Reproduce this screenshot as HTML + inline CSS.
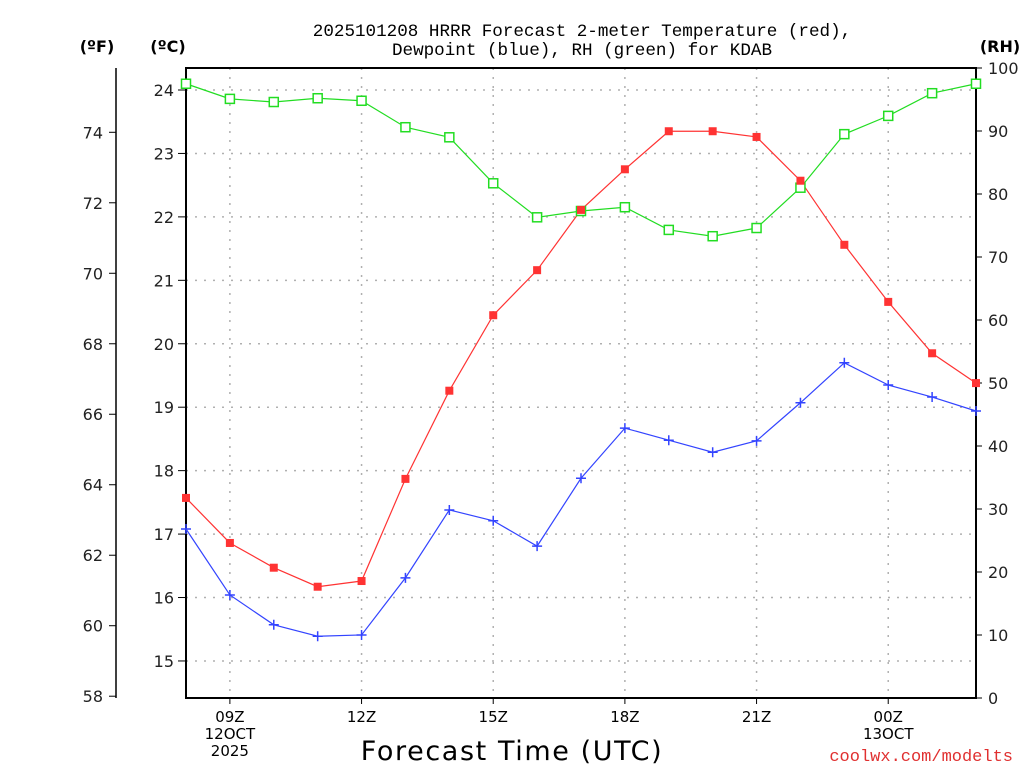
<!DOCTYPE html>
<html><head><meta charset="utf-8"><style>
html,body{margin:0;padding:0;background:#fff;}
svg{display:block;font-family:"DejaVu Sans","Liberation Sans",sans-serif;}
</style></head><body>
<svg id="chart" width="1024" height="768" xmlns="http://www.w3.org/2000/svg">
<rect width="1024" height="768" fill="#fff"/>
<text x="582" y="36" font-size="17.6" text-anchor="middle" fill="#000" font-family="Liberation Mono, monospace">2025101208 HRRR Forecast 2-meter Temperature (red),</text>
<text x="582" y="55" font-size="17.6" text-anchor="middle" fill="#000" font-family="Liberation Mono, monospace">Dewpoint (blue), RH (green) for KDAB</text>
<text x="97" y="52" font-size="16" font-weight="bold" text-anchor="middle">(ºF)</text>
<text x="168" y="52" font-size="16" font-weight="bold" text-anchor="middle">(ºC)</text>
<text x="1000" y="52" font-size="16" font-weight="bold" text-anchor="middle">(RH)</text>
<text x="512" y="760" font-size="27" letter-spacing="1.6" text-anchor="middle">Forecast Time (UTC)</text>
<text x="1013" y="761" font-size="17" text-anchor="end" fill="#e03030" font-family="Liberation Mono, monospace">coolwx.com/modelts</text>
<g id="grid"></g><g id="axes"></g><g id="series"></g>
</svg>
<script>
const hours=[8,9,10,11,12,13,14,15,16,17,18,19,20,21,22,23,24,25,26];
const tempC=[17.57,16.86,16.47,16.17,16.26,17.87,19.26,20.45,21.16,22.11,22.75,23.35,23.35,23.26,22.57,21.56,20.66,19.85,19.38];
const dewC=[17.08,16.04,15.57,15.39,15.41,16.31,17.38,17.21,16.81,17.88,18.67,18.48,18.29,18.47,19.07,19.70,19.35,19.16,18.94];
const rhVals=[97.5,95.1,94.6,95.2,94.8,90.6,89.0,81.7,76.3,77.3,77.9,74.3,73.3,74.6,81.0,89.5,92.4,96.0,97.5];
const xTickHours=[9,12,15,18,21,24];
const xTickLabels=[["09Z","12OCT","2025"],["12Z"],["15Z"],["18Z"],["21Z"],["00Z","13OCT"]];
const cTicks=[15,16,17,18,19,20,21,22,23,24];
const fTicks=[58,60,62,64,66,68,70,72,74];
const rhTicks=[0,10,20,30,40,50,60,70,80,90,100];

const NS="http://www.w3.org/2000/svg";
const L=186,R=976,T=68,B=698;
const xs=h=>L+(h-8)*(R-L)/18;
const yc=c=>90+(24-c)*63.44;
const yf=f=>yc((f-32)*5/9);
const yr=r=>B-r*(B-T)/100;
function mk(tag,attrs,parent,txt){const e=document.createElementNS(NS,tag);for(const k in attrs)e.setAttribute(k,attrs[k]);if(txt!==undefined)e.textContent=txt;parent.appendChild(e);return e;}
const grid=document.getElementById('grid'),axes=document.getElementById('axes'),ser=document.getElementById('series');
const dot={stroke:"#b0b0b0","stroke-width":1.5,"stroke-dasharray":"2 7"};
xTickHours.forEach((h,i)=>{
 const g=mk('line',Object.assign({x1:xs(h),x2:xs(h),y1:T,y2:B},dot),grid);
 
 
 mk('line',{x1:xs(h),x2:xs(h),y1:B,y2:B+6,stroke:"#000"},axes);
 xTickLabels[i].forEach((s,j)=>{const t=mk('text',{x:xs(h),y:722+j*17,"font-size":15,"text-anchor":"middle"},axes,s);
 
 });
});
cTicks.forEach(c=>{
 const g=mk('line',Object.assign({x1:L,x2:R,y1:yc(c),y2:yc(c)},dot),grid);
 
 
 mk('line',{x1:L-8,x2:L,y1:yc(c),y2:yc(c),stroke:"#000"},axes);
 const t=mk('text',{x:L-12,y:yc(c)+6,"font-size":16,"text-anchor":"end",fill:"#222"},axes,c);
 
 
});
mk('line',{x1:116,x2:116,y1:T,y2:B,stroke:"#000","stroke-width":1.5},axes);
fTicks.forEach(f=>{
 mk('line',{x1:109,x2:116,y1:yf(f),y2:yf(f),stroke:"#000"},axes);
 const t=mk('text',{x:103,y:yf(f)+6,"font-size":16,"text-anchor":"end",fill:"#222"},axes,f);
 
 
});
rhTicks.forEach(r=>{
 mk('line',{x1:R,x2:R+6,y1:yr(r),y2:yr(r),stroke:"#000"},axes);
 const t=mk('text',{x:R+12,y:yr(r)+6,"font-size":16,fill:"#222"},axes,r);
 
 
});
const frame=mk('rect',{x:L,y:T,width:R-L,height:B-T,fill:"none",stroke:"#000","stroke-width":2},axes);



function line(vals,yfn,color,name){
 const p=mk('polyline',{points:vals.map((v,i)=>xs(hours[i])+","+yfn(v)).join(" "),fill:"none",stroke:color,"stroke-width":1.2},ser);
 
 
}
line(rhVals,yr,"#22dd22","rh");
line(tempC,yc,"#ff3333","temperature");
line(dewC,yc,"#3344ff","dewpoint");
rhVals.forEach((v,i)=>{const m=mk('rect',{x:xs(hours[i])-4.5,y:yr(v)-4.5,width:9,height:9,fill:"#fff",stroke:"#22dd22","stroke-width":1.5},ser);
 
 });
tempC.forEach((v,i)=>{const m=mk('rect',{x:xs(hours[i])-4,y:yc(v)-4,width:8,height:8,fill:"#ff3333"},ser);
 
 });
dewC.forEach((v,i)=>{const x=xs(hours[i]),y=yc(v);const m=mk('path',{d:`M${x-5} ${y}H${x+5}M${x} ${y-5}V${y+5}`,stroke:"#3344ff","stroke-width":1.5},ser);
 
 });
</script>
</body></html>
